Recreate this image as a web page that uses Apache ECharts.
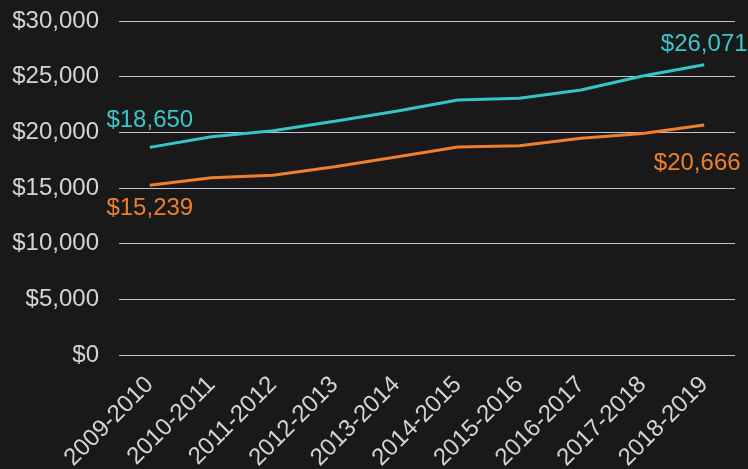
<!DOCTYPE html>
<html>
<head>
<meta charset="utf-8">
<script src="https://cdn.jsdelivr.net/npm/echarts@6/dist/echarts.min.js"></script>
<style>
html,body{margin:0;padding:0;background:#191919;}
#chart{width:748px;height:469px;}
</style>
</head>
<body>
<div id="chart"></div>
<script>
var categories = ['2009-2010','2010-2011','2011-2012','2012-2013','2013-2014','2014-2015','2015-2016','2016-2017','2017-2018','2018-2019'];
var seriesA = [18650, 19600, 20150, 21000, 21900, 22900, 23060, 23800, 25060, 26071];
var seriesB = [15239, 15930, 16140, 16900, 17780, 18680, 18800, 19460, 19900, 20666];
var yTicks = [0, 5000, 10000, 15000, 20000, 25000, 30000];

var FONT = 'Liberation Sans, Arial, sans-serif';
var fmt = function (v) { return '$' + Number(v).toLocaleString('en-US'); };
function toData(arr, firstDist, lastDist, lastOffset) {
  return arr.map(function (v, i) {
    var isFirst = i === 0, isLast = i === arr.length - 1;
    var lbl = { show: isFirst || isLast };
    if (isFirst) lbl.distance = firstDist;
    if (isLast) { lbl.distance = lastDist; if (lastOffset) lbl.offset = lastOffset; }
    return { value: v, label: lbl };
  });
}
var chart = echarts.init(document.getElementById('chart'));
chart.setOption({
  backgroundColor: '#191919',
  animation: false,
  grid: { left: 119, right: 13, top: 21, bottom: 114, containLabel: false, outerBoundsMode: 'none' },
  xAxis: {
    type: 'category',
    data: categories,
    boundaryGap: true,
    axisLine: { show: false },
    axisTick: { show: false },
    axisLabel: { rotate: 45, color: '#d4d4d4', fontSize: 24, fontFamily: FONT, margin: 26, interval: 0 }
  },
  yAxis: {
    type: 'value',
    min: yTicks[0],
    max: yTicks[yTicks.length - 1],
    interval: yTicks[1] - yTicks[0],
    axisLine: { show: false },
    axisTick: { show: false },
    axisLabel: { color: '#d4d4d4', fontSize: 24, fontFamily: FONT, margin: 20, formatter: fmt },
    splitLine: { lineStyle: { color: '#c2c4d0', width: 1 } }
  },
  series: [
    {
      type: 'line',
      data: toData(seriesA, 15, 8),
      symbol: 'circle',
      symbolSize: 0,
      lineStyle: { color: '#33c6c6', width: 3 },
      itemStyle: { color: '#33c6c6' },
      label: { position: 'top', color: '#3cc6c9', fontSize: 24, fontFamily: FONT, formatter: function (p) { return fmt(p.value); } }
    },
    {
      type: 'line',
      data: toData(seriesB, 11, 26, [-7, 0]),
      symbol: 'circle',
      symbolSize: 0,
      lineStyle: { color: '#f07f2c', width: 3 },
      itemStyle: { color: '#f07f2c' },
      label: { position: 'bottom', color: '#f07f2c', fontSize: 24, fontFamily: FONT, formatter: function (p) { return fmt(p.value); } }
    }
  ]
});
</script>
</body>
</html>
